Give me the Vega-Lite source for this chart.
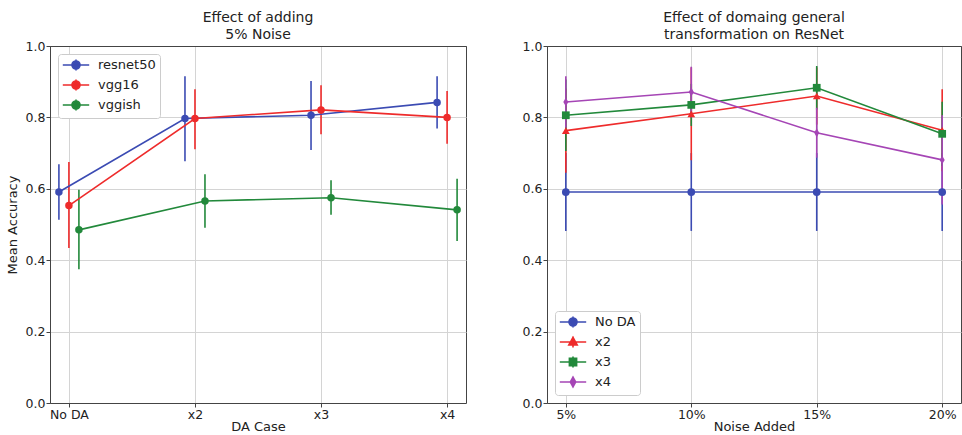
{
  "$schema": "https://vega.github.io/schema/vega-lite/v6.json",
  "background": "white",
  "padding": {"left": 5, "top": 10, "right": 0, "bottom": 0},
  "datasets": {
    "left": [
      {"case": "No DA", "model": "resnet50", "mean": 0.591, "lo": 0.513, "hi": 0.669},
      {"case": "x2", "model": "resnet50", "mean": 0.797, "lo": 0.677, "hi": 0.915},
      {"case": "x3", "model": "resnet50", "mean": 0.806, "lo": 0.709, "hi": 0.902},
      {"case": "x4", "model": "resnet50", "mean": 0.842, "lo": 0.769, "hi": 0.915},
      {"case": "No DA", "model": "vgg16", "mean": 0.553, "lo": 0.434, "hi": 0.675},
      {"case": "x2", "model": "vgg16", "mean": 0.797, "lo": 0.711, "hi": 0.879},
      {"case": "x3", "model": "vgg16", "mean": 0.821, "lo": 0.753, "hi": 0.890},
      {"case": "x4", "model": "vgg16", "mean": 0.800, "lo": 0.726, "hi": 0.874},
      {"case": "No DA", "model": "vggish", "mean": 0.485, "lo": 0.375, "hi": 0.597},
      {"case": "x2", "model": "vggish", "mean": 0.566, "lo": 0.491, "hi": 0.641},
      {"case": "x3", "model": "vggish", "mean": 0.575, "lo": 0.527, "hi": 0.624},
      {"case": "x4", "model": "vggish", "mean": 0.541, "lo": 0.454, "hi": 0.628}
    ],
    "right": [
      {"noise": "5%", "da": "No DA", "mean": 0.591, "lo": 0.482, "hi": 0.700},
      {"noise": "10%", "da": "No DA", "mean": 0.591, "lo": 0.482, "hi": 0.700},
      {"noise": "15%", "da": "No DA", "mean": 0.591, "lo": 0.482, "hi": 0.700},
      {"noise": "20%", "da": "No DA", "mean": 0.591, "lo": 0.482, "hi": 0.700},
      {"noise": "5%", "da": "x2", "mean": 0.763, "lo": 0.645, "hi": 0.881},
      {"noise": "10%", "da": "x2", "mean": 0.810, "lo": 0.680, "hi": 0.940},
      {"noise": "15%", "da": "x2", "mean": 0.860, "lo": 0.780, "hi": 0.940},
      {"noise": "20%", "da": "x2", "mean": 0.764, "lo": 0.649, "hi": 0.879},
      {"noise": "5%", "da": "x3", "mean": 0.806, "lo": 0.706, "hi": 0.906},
      {"noise": "10%", "da": "x3", "mean": 0.835, "lo": 0.776, "hi": 0.894},
      {"noise": "15%", "da": "x3", "mean": 0.883, "lo": 0.822, "hi": 0.944},
      {"noise": "20%", "da": "x3", "mean": 0.754, "lo": 0.664, "hi": 0.844},
      {"noise": "5%", "da": "x4", "mean": 0.843, "lo": 0.771, "hi": 0.915},
      {"noise": "10%", "da": "x4", "mean": 0.871, "lo": 0.800, "hi": 0.942},
      {"noise": "15%", "da": "x4", "mean": 0.757, "lo": 0.687, "hi": 0.827},
      {"noise": "20%", "da": "x4", "mean": 0.681, "lo": 0.556, "hi": 0.806}
    ]
  },
  "config": {
    "font": "DejaVu Sans",
    "view": {"stroke": "#444444", "strokeWidth": 1},
    "axis": {
      "domain": true,
      "domainColor": "#444444",
      "grid": true,
      "gridColor": "#d4d4d4",
      "gridWidth": 1,
      "tickColor": "#444444",
      "tickSize": 4,
      "labelFontSize": 12.5,
      "labelColor": "#222222",
      "labelPadding": 1,
      "titleFontSize": 13,
      "titleFontWeight": "normal",
      "titleColor": "#222222"
    },
    "title": {"fontSize": 14, "fontWeight": "normal", "color": "#222222", "offset": -2, "frame": "group", "anchor": "middle", "lineHeight": 17},
    "legend": {
      "title": null,
      "labelFontSize": 13,
      "labelColor": "#222222",
      "fillColor": "white",
      "strokeColor": "#cccccc",
      "cornerRadius": 3,
      "padding": 4,
      "offset": 8,
      "rowPadding": 2,
      "symbolSize": 144,
      "symbolOffset": 7,
      "labelOffset": 15
    }
  },
  "spacing": 54,
  "resolve": {
    "scale": {"color": "independent"},
    "legend": {"color": "independent"}
  },
  "hconcat": [
    {
      "width": 416,
      "height": 357,
      "title": {"text": ["Effect of adding", " 5% Noise"]},
      "data": {"name": "left"},
      "encoding": {
        "x": {
          "field": "case", "type": "ordinal", "sort": ["No DA", "x2", "x3", "x4"],
          "scale": {"type": "point", "padding": 0.15},
          "axis": {"title": "DA Case", "labelAngle": 0, "titlePadding": 0}
        },
        "y": {
          "field": "mean", "type": "quantitative",
          "scale": {"domain": [0, 1], "nice": false, "zero": false},
          "axis": {"title": "Mean Accuracy", "values": [0, 0.2, 0.4, 0.6, 0.8, 1.0], "format": ".1f", "titlePadding": 6,
                   "gridColor": {"condition": {"test": "datum.value === 1", "value": "#444444"}, "value": "#d4d4d4"}}
        },
        "color": {
          "field": "model", "type": "nominal",
          "scale": {"domain": ["resnet50", "vgg16", "vggish"], "range": ["#3b4bb3", "#ee2b2b", "#22893b"]},
          "legend": {
            "orient": "top-left",
            "encode": {
              "symbols": {
                "update": {
                  "shape": {"value": "M-2.2,0L2.2,0M0,-0.92L0,0.92M-0.67,0A0.67,0.67,0,1,0,0.67,0A0.67,0.67,0,1,0,-0.67,0Z"},
                  "fill": {"signal": "datum.value === 'resnet50' ? '#3b4bb3' : datum.value === 'vgg16' ? '#ee2b2b' : '#22893b'"},
                  "stroke": {"signal": "datum.value === 'resnet50' ? '#3b4bb3' : datum.value === 'vgg16' ? '#ee2b2b' : '#22893b'"},
                  "strokeWidth": {"value": 1.6},
                  "opacity": {"value": 1}
                }
              }
            }
          }
        }
      },
      "layer": [
        {
          "mark": {"type": "rule", "strokeWidth": 1.6, "xOffset": {"expr": "datum.model === 'resnet50' ? -10 : datum.model === 'vggish' ? 10 : 0"}},
          "encoding": {"y": {"field": "lo", "type": "quantitative"}, "y2": {"field": "hi"}}
        },
        {
          "mark": {"type": "line", "strokeWidth": 1.6, "xOffset": {"expr": "datum.model === 'resnet50' ? -10 : datum.model === 'vggish' ? 10 : 0"}}
        },
        {
          "mark": {"type": "point", "filled": true, "opacity": 1, "shape": "circle", "size": 56, "xOffset": {"expr": "datum.model === 'resnet50' ? -10 : datum.model === 'vggish' ? 10 : 0"}}
        }
      ]
    },
    {
      "width": 414,
      "height": 357,
      "title": {"text": ["Effect of domaing general", " transformation on ResNet"]},
      "data": {"name": "right"},
      "encoding": {
        "x": {
          "field": "noise", "type": "ordinal", "sort": ["5%", "10%", "15%", "20%"],
          "scale": {"type": "point", "padding": 0.15},
          "axis": {"title": "Noise Added", "labelAngle": 0, "titlePadding": 0}
        },
        "y": {
          "field": "mean", "type": "quantitative",
          "scale": {"domain": [0, 1], "nice": false, "zero": false},
          "axis": {"title": null, "values": [0, 0.2, 0.4, 0.6, 0.8, 1.0], "format": ".1f",
                   "gridColor": {"condition": {"test": "datum.value === 1", "value": "#444444"}, "value": "#d4d4d4"}}
        },
        "color": {
          "field": "da", "type": "nominal",
          "scale": {"domain": ["No DA", "x2", "x3", "x4"], "range": ["#3b4bb3", "#ee2b2b", "#22893b", "#a545b5"]},
          "legend": {
            "orient": "bottom-left",
            "encode": {
              "symbols": {
                "update": {
                  "shape": {"signal": "datum.value === 'No DA' ? 'M-2.2,0L2.2,0M0,-0.92L0,0.92M-0.67,0A0.67,0.67,0,1,0,0.67,0A0.67,0.67,0,1,0,-0.67,0Z' : datum.value === 'x2' ? 'M-2.2,0L2.2,0M0,-0.92L0,0.92M0,-0.78L0.7,0.5L-0.7,0.5Z' : datum.value === 'x3' ? 'M-2.2,0L2.2,0M0,-0.92L0,0.92M-0.6,-0.6L0.6,-0.6L0.6,0.6L-0.6,0.6Z' : 'M-2.2,0L2.2,0M0,-0.92L0,0.92M0,-0.8L0.45,0L0,0.8L-0.45,0Z'"},
                  "fill": {"signal": "datum.value === 'No DA' ? '#3b4bb3' : datum.value === 'x2' ? '#ee2b2b' : datum.value === 'x3' ? '#22893b' : '#a545b5'"},
                  "stroke": {"signal": "datum.value === 'No DA' ? '#3b4bb3' : datum.value === 'x2' ? '#ee2b2b' : datum.value === 'x3' ? '#22893b' : '#a545b5'"},
                  "strokeWidth": {"value": 1.6},
                  "opacity": {"value": 1}
                }
              }
            }
          }
        }
      },
      "layer": [
        {
          "mark": {"type": "rule", "strokeWidth": 1.6},
          "encoding": {"y": {"field": "lo", "type": "quantitative"}, "y2": {"field": "hi"}}
        },
        {
          "mark": {"type": "line", "strokeWidth": 1.6}
        },
        {
          "mark": {"type": "point", "filled": true, "opacity": 1, "size": 60,
                   "shape": {"expr": "datum.da === 'x2' ? 'triangle-up' : datum.da === 'x3' ? 'square' : datum.da === 'x4' ? 'M0,-1.15L0.65,0L0,1.15L-0.65,0Z' : 'circle'"}}
        }
      ]
    }
  ]
}
